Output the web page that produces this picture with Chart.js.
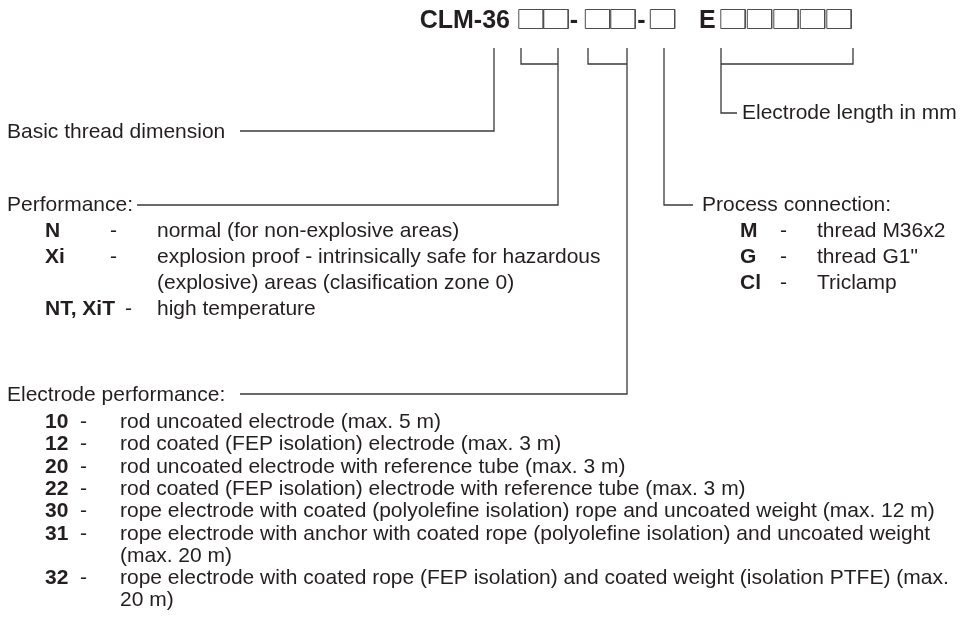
<!DOCTYPE html>
<html>
<head>
<meta charset="utf-8">
<script src="https://cdn.jsdelivr.net/npm/chart.js@4/dist/chart.umd.min.js"></script>
<style>
  html, body { margin: 0; padding: 0; background: #fff; }
  #wrap { width: 971px; height: 638px; }
</style>
</head>
<body>
<div id="wrap"><canvas id="order-code" width="971" height="638"></canvas></div>
<script>
// ---- content ----
const codePrefix = 'CLM-36';
const codeSeparators = ['-', '-', 'E'];
const boxCentersX = [531, 556, 597.5, 623, 662.5, 733, 759.5, 786, 812.5, 839];

const headings = ['Basic thread dimension', 'Performance:', 'Electrode performance:', 'Process connection:', 'Electrode length in mm'];

const performanceCodes = ['N', 'Xi', '', 'NT, XiT'];
const performanceText = [
  'normal (for non-explosive areas)',
  'explosion proof - intrinsically safe for hazardous',
  '(explosive) areas (clasification zone 0)',
  'high temperature'
];

const connectionCodes = ['M', 'G', 'Cl'];
const connectionText = ['thread M36x2', 'thread G1"', 'Triclamp'];

const electrodeCodes = ['10', '12', '20', '22', '30', '31', '', '32', ''];
const electrodeText = [
  'rod uncoated electrode (max. 5 m)',
  'rod coated (FEP isolation) electrode (max. 3 m)',
  'rod uncoated electrode with reference tube (max. 3 m)',
  'rod coated (FEP isolation) electrode with reference tube (max. 3 m)',
  'rope electrode with coated (polyolefine isolation) rope and uncoated weight (max. 12 m)',
  'rope electrode with anchor with coated rope (polyolefine isolation) and uncoated weight',
  '(max. 20 m)',
  'rope electrode with coated rope (FEP isolation) and coated weight (isolation PTFE) (max.',
  '20 m)'
];

// connector polylines in diagram units
const connectors = [
  [[240, 131], [494, 131], [494, 48]],
  [[521, 48], [521, 64], [558, 64]],
  [[558, 48], [558, 205], [137, 205]],
  [[588, 48], [588, 64], [627, 64]],
  [[627, 48], [627, 394], [240, 394]],
  [[664, 48], [664, 205], [693, 205]],
  [[853, 48], [853, 64], [721, 64]],
  [[721, 48], [721, 113], [737, 113]]
];

// ---- layout ----
const BOX_HALF_W = 12.2;
const BOX_TOP = 9.5;
const BOX_BOTTOM = 28.5;
const TEXT_COLOR = '#231f20';
const LINE_COLOR = '#3a3a3a';
const FONT = "'Liberation Sans', Arial, sans-serif";

function boxPath(cx) {
  return [
    { x: cx - BOX_HALF_W, y: BOX_TOP },
    { x: cx + BOX_HALF_W, y: BOX_TOP },
    { x: cx + BOX_HALF_W, y: BOX_BOTTOM },
    { x: cx - BOX_HALF_W, y: BOX_BOTTOM },
    { x: cx - BOX_HALF_W, y: BOX_TOP }
  ];
}

function lineDataset(points, color, width) {
  return {
    data: points,
    showLine: true,
    borderColor: color,
    borderWidth: width,
    pointRadius: 0,
    fill: false,
    tension: 0
  };
}

const datasets = [];
boxCentersX.forEach(cx => datasets.push(lineDataset(boxPath(cx), '#4d4d4d', 1)));
connectors.forEach(path => datasets.push(lineDataset(path.map(p => ({ x: p[0], y: p[1] })), LINE_COLOR, 1.3)));

// text runs: [text, x, baseline y, bold, size, align]
function buildTextRuns() {
  const runs = [];
  runs.push([codePrefix, 510, 28, true, 25, 'right']);
  runs.push([codeSeparators[0], 574, 28, true, 25, 'center']);
  runs.push([codeSeparators[1], 641.5, 28, true, 25, 'center']);
  runs.push([codeSeparators[2], 699, 28, true, 25, 'left']);

  runs.push([headings[0], 7, 138, false, 21]);
  runs.push([headings[1], 7, 211, false, 21]);
  runs.push([headings[2], 7, 401, false, 21]);
  runs.push([headings[3], 702, 211, false, 21]);
  runs.push([headings[4], 742, 119, false, 21]);

  performanceCodes.forEach((c, i) => {
    const y = 237 + i * 26;
    if (c) {
      runs.push([c, 45, y, true, 21]);
      runs.push(['-', c.length > 2 ? 125 : 110, y, false, 21]);
    }
    runs.push([performanceText[i], 157, y, false, 21]);
  });

  connectionCodes.forEach((c, i) => {
    const y = 237 + i * 26;
    runs.push([c, 740, y, true, 21]);
    runs.push(['-', 780, y, false, 21]);
    runs.push([connectionText[i], 817, y, false, 21]);
  });

  electrodeCodes.forEach((c, i) => {
    const y = 428 + i * 22.3;
    if (c) {
      runs.push([c, 45, y, true, 21]);
      runs.push(['-', 80, y, false, 21]);
    }
    runs.push([electrodeText[i], 120, y, false, 21]);
  });
  return runs;
}

const textPlugin = {
  id: 'orderText',
  afterDatasetsDraw(chart) {
    const { ctx, scales: { x, y } } = chart;
    ctx.save();
    ctx.fillStyle = TEXT_COLOR;
    ctx.textBaseline = 'alphabetic';
    buildTextRuns().forEach(([text, tx, ty, bold, size, align]) => {
      ctx.font = (bold ? 'bold ' : '') + size + 'px ' + FONT;
      ctx.textAlign = align || 'left';
      ctx.fillText(text, x.getPixelForValue(tx), y.getPixelForValue(ty));
    });
    ctx.restore();
  }
};

new Chart(document.getElementById('order-code'), {
  type: 'scatter',
  data: { datasets },
  options: {
    responsive: false,
    animation: false,
    devicePixelRatio: 1,
    layout: { padding: 0 },
    plugins: { legend: { display: false }, tooltip: { enabled: false } },
    scales: {
      x: { type: 'linear', min: 0, max: 971, display: false },
      y: { type: 'linear', min: 0, max: 638, reverse: true, display: false }
    }
  },
  plugins: [textPlugin]
});
</script>
</body>
</html>
